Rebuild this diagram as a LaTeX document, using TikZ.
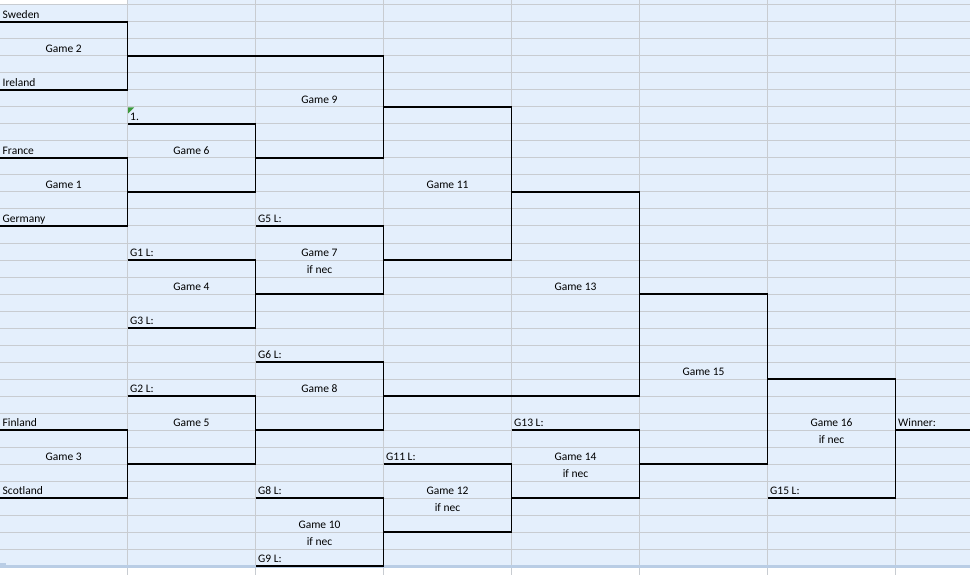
\documentclass[tikz,border=0pt]{standalone}
\usepackage{fontspec}
\setmainfont{Carlito}
\definecolor{cellbg}{HTML}{E4EFFC}
\definecolor{gridc}{HTML}{C8CCD1}
\definecolor{sepc}{HTML}{B9CDE5}
\definecolor{errgreen}{HTML}{3C9A3C}
\begin{document}
\begin{tikzpicture}[x=1pt,y=-1pt,
  txt/.style={inner sep=0pt, font=\fontsize{11.5}{13}\selectfont},
  lab/.style={txt, anchor=base west},
  ctr/.style={txt, anchor=base},
  br/.style={draw=black, line width=1.15pt, line join=miter}]
\useasboundingbox (0,0) rectangle (970,575);
% sheet background
\fill[cellbg] (0,0) rectangle (970,566);
\fill[white] (0,0) rectangle (127,5);
\fill[white] (0,567) rectangle (970,575);
% grid
\foreach \k in {0,...,32} \draw[gridc, line width=1pt] (0,{5+17*\k}) -- (970,{5+17*\k});
\foreach \c in {0,...,6} \draw[gridc, line width=1pt] ({127.5+128*\c},0) -- ({127.5+128*\c},575);
\fill[sepc] (0,565) rectangle (970,568);
\fill[sepc] (0,563) rectangle (6,568);
% error indicator
\fill[errgreen] (128,107.5) -- (134,107.5) -- (128,113.5) -- cycle;
% bracket lines
\draw[br] (0,22) -- (127.5,22) -- (127.5,90) -- (0,90);
\draw[br] (127.5,56) -- (383.5,56) -- (383.5,158) -- (255.5,158);
\draw[br] (127.5,124) -- (255.5,124) -- (255.5,192) -- (127.5,192);
\draw[br] (0,158) -- (127.5,158) -- (127.5,226) -- (0,226);
\draw[br] (383.5,107) -- (511.5,107) -- (511.5,260) -- (383.5,260);
\draw[br] (255.5,226) -- (383.5,226) -- (383.5,294) -- (255.5,294);
\draw[br] (127.5,260) -- (255.5,260) -- (255.5,328) -- (127.5,328);
\draw[br] (511.5,192) -- (639.5,192) -- (639.5,396) -- (383.5,396);
\draw[br] (255.5,362) -- (383.5,362) -- (383.5,430) -- (255.5,430);
\draw[br] (127.5,396) -- (255.5,396) -- (255.5,464) -- (127.5,464);
\draw[br] (0,430) -- (127.5,430) -- (127.5,498) -- (0,498);
\draw[br] (639.5,294) -- (767.5,294) -- (767.5,464) -- (639.5,464);
\draw[br] (511.5,430) -- (639.5,430) -- (639.5,498) -- (511.5,498);
\draw[br] (383.5,464) -- (511.5,464) -- (511.5,532) -- (383.5,532);
\draw[br] (255.5,498) -- (383.5,498) -- (383.5,566) -- (255.5,566);
\draw[br] (767.5,379) -- (895.5,379) -- (895.5,498) -- (767.5,498);
\draw[br] (895.5,430) -- (970,430);
% left-aligned labels
\node[lab] (sweden)   at (2.5,18.3)   {Sweden};
\node[lab] (ireland)  at (2.5,86.3)   {Ireland};
\node[lab] (one)      at (130,120.3)  {1.};
\node[lab] (france)   at (2.5,154.3)  {France};
\node[lab] (germany)  at (2.5,222.3)  {Germany};
\node[lab] (gfivel)   at (258,222.3)  {G5 L:};
\node[lab] (gonel)    at (130,256.3)  {G1 L:};
\node[lab] (gthreel)  at (130,324.3)  {G3 L:};
\node[lab] (gsixl)    at (258,358.3)  {G6 L:};
\node[lab] (gtwol)    at (130,392.3)  {G2 L:};
\node[lab] (finland)  at (2.5,426.3)  {Finland};
\node[lab] (g13l)     at (514,426.3)  {G13 L:};
\node[lab] (winner)   at (898,426.3)  {Winner:};
\node[lab] (g11l)     at (386,460.3)  {G11 L:};
\node[lab] (scotland) at (2.5,494.3)  {Scotland};
\node[lab] (geightl)  at (258,494.3)  {G8 L:};
\node[lab] (g15l)     at (770,494.3)  {G15 L:};
\node[lab] (gninel)   at (258,562.3)  {G9 L:};
% centred labels
\node[ctr] (game2)  at (63.75,52.3)  {Game 2};
\node[ctr] (game9)  at (319.5,103.3) {Game 9};
\node[ctr] (game6)  at (191.5,154.3) {Game 6};
\node[ctr] (game1)  at (63.75,188.3) {Game 1};
\node[ctr] (game11) at (447.5,188.3) {Game 11};
\node[ctr] (game7)  at (319.5,256.3) {Game 7};
\node[ctr] (nec7)   at (319.5,273.3) {if nec};
\node[ctr] (game4)  at (191.5,290.3) {Game 4};
\node[ctr] (game13) at (575.5,290.3) {Game 13};
\node[ctr] (game15) at (703.5,375.3) {Game 15};
\node[ctr] (game8)  at (319.5,392.3) {Game 8};
\node[ctr] (game5)  at (191.5,426.3) {Game 5};
\node[ctr] (game16) at (831.5,426.3) {Game 16};
\node[ctr] (nec16)  at (831.5,443.3) {if nec};
\node[ctr] (game3)  at (63.75,460.3) {Game 3};
\node[ctr] (game14) at (575.5,460.3) {Game 14};
\node[ctr] (nec14)  at (575.5,477.3) {if nec};
\node[ctr] (game12) at (447.5,494.3) {Game 12};
\node[ctr] (nec12)  at (447.5,511.3) {if nec};
\node[ctr] (game10) at (319.5,528.3) {Game 10};
\node[ctr] (nec10)  at (319.5,545.3) {if nec};
\end{tikzpicture}
\end{document}
